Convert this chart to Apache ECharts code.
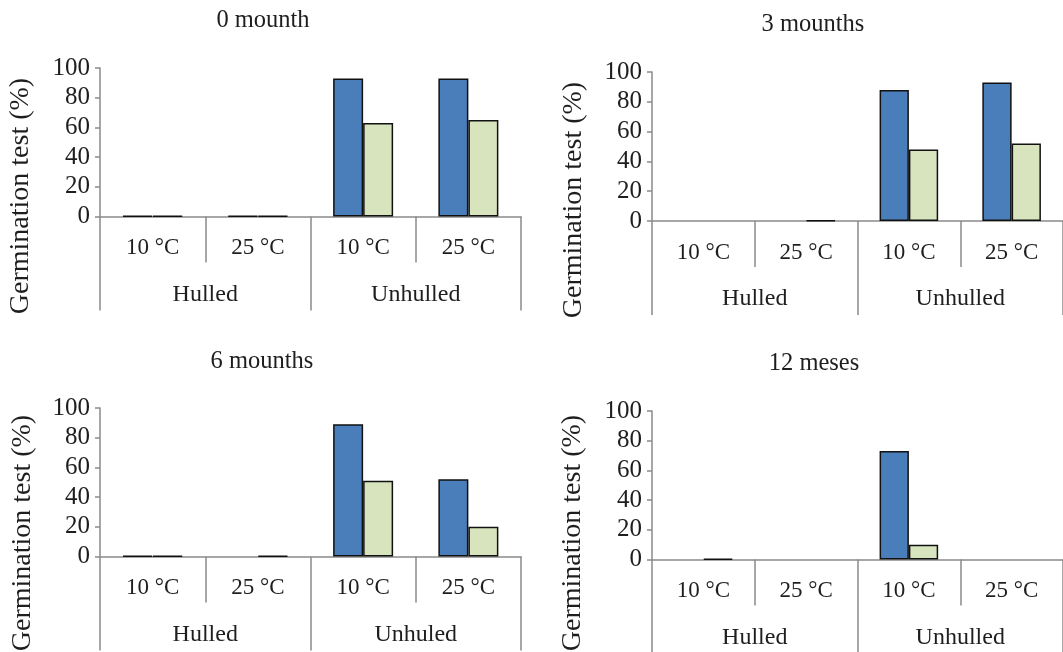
<!DOCTYPE html>
<html>
<head>
<meta charset="utf-8">
<script src="https://cdn.jsdelivr.net/npm/echarts@6/dist/echarts.min.js"></script>
<style>
html,body{margin:0;padding:0;background:#fff;}
#chart{width:1063px;height:652px;}
</style>
</head>
<body>
<div id="chart"></div>
<script>
// ---- data ----
const temps = ['10 °C', '25 °C', '10 °C', '25 °C'];
const groups1 = ['Hulled', 'Unhulled'];
const groups3 = ['Hulled', 'Unhuled'];
const titles = ['0 mounth', '3 mounths', '6 mounths', '12 meses'];
const yTicks = [0, 20, 40, 60, 80, 100];
const yTitle = 'Germination test (%)';
// first bar (blue) and second bar (green) in each temperature category
const blue0  = [0.5, 0.5, 93, 93];
const green0 = [0.5, 0.5, 63, 65];
const blue3  = [0, 0, 88, 93];
const green3 = [0, 0.5, 48, 52];
const blue6  = [0.5, 0, 89, 52];
const green6 = [0.5, 0.5, 51, 20];
const blue12  = [0, 0, 73, 0];
const green12 = [0.5, 0, 10, 0];

const panels = [
  {blue: blue0, green: green0, groups: groups1, title: titles[0]},
  {blue: blue3, green: green3, groups: groups1, title: titles[1]},
  {blue: blue6, green: green6, groups: groups3, title: titles[2]},
  {blue: blue12, green: green12, groups: groups1, title: titles[3]}
];

// ---- layout ----
const gridPos = [
  {left: 100, top: 68, width: 421, height: 148.5},
  {left: 652, top: 72, width: 424, height: 149},
  {left: 100, top: 408, width: 421, height: 148.5},
  {left: 652, top: 411, width: 424, height: 148.5}
];
const titlePos = [[263, 21], [813, 25], [262, 362], [814, 364]];
const yTitlePos = [[21, 196], [574, 200], [23, 533], [573, 533]];

const FONT = 'Liberation Serif';
const TXT = '#1e1e1e';
const AX = '#8a8a8a';

function toData(arr) {
  // zero values: no outline, so nothing is drawn
  return arr.map(v => v === 0 ? {value: 0, itemStyle: {borderWidth: 0}} : v);
}

const grid = [], xAxis = [], yAxis = [], series = [], graphic = [];
panels.forEach((p, i) => {
  grid.push(Object.assign({containLabel: false}, gridPos[i]));
  xAxis.push({
    type: 'category', gridIndex: i, data: temps, position: 'bottom',
    axisLine: {show: true, lineStyle: {color: AX, width: 1.5}},
    axisTick: {show: true, length: 46, alignWithLabel: false, lineStyle: {color: AX, width: 1.5}},
    axisLabel: {margin: 20, fontSize: 23, fontFamily: FONT, color: TXT, interval: 0}
  });
  xAxis.push({
    type: 'category', gridIndex: i, data: p.groups, position: 'bottom',
    axisLine: {show: false},
    axisTick: {show: true, length: 94, lineStyle: {color: AX, width: 1.5}},
    axisLabel: {margin: 66, fontSize: 24, fontFamily: FONT, color: TXT, interval: 0}
  });
  yAxis.push({
    type: 'value', gridIndex: i, min: yTicks[0], max: yTicks[yTicks.length - 1], interval: 20,
    axisLine: {show: true, lineStyle: {color: AX, width: 1.5}},
    axisTick: {show: true, length: 5, lineStyle: {color: AX, width: 1.5}},
    splitLine: {show: false},
    axisLabel: {margin: 10, fontSize: 25, fontFamily: FONT, color: TXT}
  });
  const common = {
    type: 'bar', xAxisIndex: 2 * i, yAxisIndex: i,
    barCategoryGap: '43%', barGap: '0%', silent: true
  };
  series.push(Object.assign({}, common, {
    name: 'Blue', data: toData(p.blue),
    itemStyle: {color: '#4A7EBB', borderColor: '#111', borderWidth: 1.5}
  }));
  series.push(Object.assign({}, common, {
    name: 'Green', data: toData(p.green),
    itemStyle: {color: '#D7E4BD', borderColor: '#111', borderWidth: 1.5}
  }));
  graphic.push({
    type: 'text', x: titlePos[i][0], y: titlePos[i][1],
    style: {text: p.title, fontSize: 24.5, fontFamily: FONT, fill: TXT,
      textAlign: 'center', textVerticalAlign: 'middle', align: 'center', verticalAlign: 'middle'}
  });
  graphic.push({
    type: 'text', x: yTitlePos[i][0], y: yTitlePos[i][1], rotation: Math.PI / 2,
    style: {text: yTitle, fontSize: 28, fontFamily: FONT, fill: TXT,
      textAlign: 'center', textVerticalAlign: 'middle', align: 'center', verticalAlign: 'middle'}
  });
});

const chart = echarts.init(document.getElementById('chart'), null, {renderer: 'canvas'});
chart.setOption({
  animation: false,
  backgroundColor: '#fff',
  grid, xAxis, yAxis, series, graphic
});
</script>
</body>
</html>
